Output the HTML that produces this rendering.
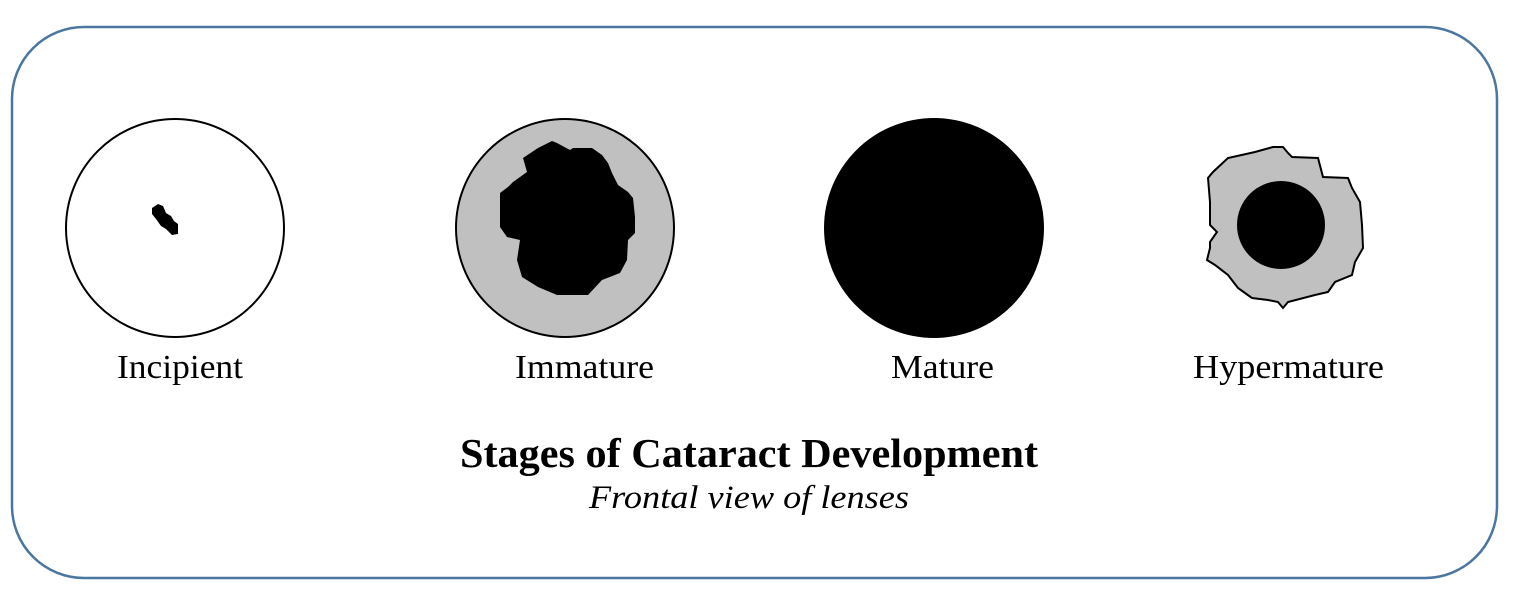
<!DOCTYPE html>
<html><head><meta charset="utf-8"><style>
html,body{margin:0;padding:0;background:#fff;}
svg{display:block;}
text{font-family:"Liberation Serif",serif;fill:#000;}
</style></head><body>
<svg width="1528" height="602" viewBox="0 0 1528 602">
<rect x="12" y="27" width="1485" height="551" rx="72" ry="72" fill="#fff" stroke="#4a76a0" stroke-width="2.5"/>
<g>
<circle cx="175" cy="228" r="109" fill="#fff" stroke="#000" stroke-width="2"/>
<path d="M152,208 L158,204 L163,206 L166,213 L171,216 L174,221 L178,224 L178,234 L172,235 L166,229 L161,226 L156,219 L152,214 Z" fill="#000"/>
</g>
<g>
<circle cx="565" cy="228" r="109" fill="#c0c0c0" stroke="#000" stroke-width="2"/>
<path d="M552,141 L557,143 L570,150 L573,148 L592,148 L602,155 L608,163 L612,173 L618,185 L628,192 L633,198 L635,217 L635,233 L628,240 L627,260 L620,273 L602,280 L588,295 L557,295 L538,287 L522,277 L517,260 L520,240 L507,237 L500,227 L500,193 L508,187 L513,182 L527,172 L523,158 L538,148 Z" fill="#000"/>
</g>
<circle cx="934" cy="228" r="110" fill="#000"/>
<g>
<path d="M1273,147 L1283,147 L1288,153 L1292,157 L1318,158 L1323,177 L1348,178 L1352,188 L1360,202 L1362,225 L1363,248 L1355,262 L1352,275 L1335,282 L1328,292 L1315,295 L1288,302 L1283,308 L1278,302 L1268,300 L1252,298 L1238,288 L1228,275 L1215,265 L1207,260 L1210,248 L1210,242 L1217,232 L1210,225 L1210,202 L1208,178 L1213,172 L1228,158 L1255,152 Z" fill="#c0c0c0" stroke="#000" stroke-width="2"/>
<circle cx="1281" cy="225" r="44" fill="#000"/>
</g>
<text x="117" y="378" font-size="34" textLength="126" lengthAdjust="spacingAndGlyphs">Incipient</text>
<text x="515" y="378" font-size="34" textLength="139" lengthAdjust="spacingAndGlyphs">Immature</text>
<text x="891" y="378" font-size="34" textLength="103" lengthAdjust="spacingAndGlyphs">Mature</text>
<text x="1193" y="378" font-size="34" textLength="191" lengthAdjust="spacingAndGlyphs">Hypermature</text>
<text x="460" y="467" font-size="41" font-weight="bold" textLength="578" lengthAdjust="spacingAndGlyphs">Stages of Cataract Development</text>
<text x="589" y="508" font-size="33" font-style="italic" textLength="320" lengthAdjust="spacingAndGlyphs">Frontal view of lenses</text>
</svg>
</body></html>
